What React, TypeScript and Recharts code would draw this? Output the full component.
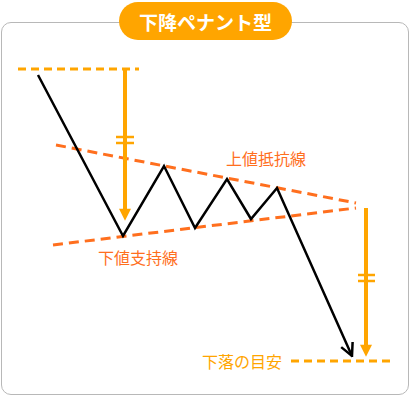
import React from 'react';
import { LineChart, Line, XAxis, YAxis } from 'recharts';

// price path of the pattern (x = time, y = level on a top-down scale)
const pathX = [38, 123, 164, 195, 227, 251, 277, 352];
const pathY = [75, 236, 166, 228, 179, 219, 188, 356];

const resistanceX = [56, 356];
const resistanceY = [145, 203];
const supportX = [53, 356];
const supportY = [245, 208];

const topTargetX = [18, 139];
const topTargetY = [69, 69];
const bottomTargetX = [291, 390];
const bottomTargetY = [361, 361];

const leftMeasureX = [125, 125];
const leftMeasureY = [69, 210];
const rightMeasureX = [366, 366];
const rightMeasureY = [208, 346];

const leftTickX = [116, 134];
const leftTickY = [137, 143];
const rightTickX = [358, 375];
const rightTickY = [275, 281];

const title = '下降ペナント型';
const resistanceLabel = '上値抵抗線';
const supportLabel = '下値支持線';
const targetLabel = '下落の目安';

const zip = (xs: number[], ys: number[]) => xs.map((x, i) => ({ x, y: ys[i] }));

const ORANGE = '#FFA500';
const RED_ORANGE = '#FF6F1E';

const plain = { dataKey: 'y', dot: false, activeDot: false, isAnimationActive: false, legendType: 'none' as const };

export default function App() {
  const tickLines = [
    ...leftTickY.map((y) => zip(leftTickX, [y, y])),
    ...rightTickY.map((y) => zip(rightTickX, [y, y])),
  ];

  const jp = '"Noto Sans CJK JP", "Noto Sans", sans-serif';

  return (
    <div style={{ position: 'absolute', left: 0, top: 0, width: 412, height: 400, background: '#fff', fontFamily: jp }}>
      <svg width={0} height={0} style={{ position: 'absolute' }}>
        <defs>
          <marker id="headBlack" viewBox="0 0 12 12" refX={11} refY={6} markerWidth={6} markerHeight={6} orient="auto" markerUnits="strokeWidth">
            <path d="M1,1 L11,6 L1,11" fill="none" stroke="#000" strokeWidth={2} strokeLinejoin="miter" />
          </marker>
          <marker id="headOrange" viewBox="0 0 10 10" refX={1} refY={5} markerWidth={3.5} markerHeight={3} orient="auto" markerUnits="strokeWidth">
            <path d="M0,0 L10,5 L0,10 Z" fill={ORANGE} />
          </marker>
        </defs>
      </svg>

      <div
        style={{
          position: 'absolute', left: 1, top: 22, width: 406, height: 371,
          border: '1.5px solid #b8b8b8', borderRadius: 10,
        }}
      />
      <div
        style={{
          position: 'absolute', left: 119, top: 2, width: 173, height: 38, borderRadius: 19,
          background: ORANGE, color: '#fff', fontSize: 19, fontWeight: 700,
          display: 'flex', alignItems: 'center', justifyContent: 'center',
        }}
      >
        {title}
      </div>

      <div style={{ position: 'absolute', left: 0, top: 0 }}>
        <LineChart width={412} height={400} margin={{ top: 0, right: 0, bottom: 0, left: 0 }}>
          <XAxis type="number" dataKey="x" domain={[0, 412]} hide allowDataOverflow />
          <YAxis type="number" dataKey="y" domain={[0, 400]} reversed hide allowDataOverflow />

          <Line {...plain} data={zip(resistanceX, resistanceY)} stroke={RED_ORANGE} strokeWidth={3} strokeDasharray="10 6" />
          <Line {...plain} data={zip(supportX, supportY)} stroke={RED_ORANGE} strokeWidth={3} strokeDasharray="10 6" />

          <Line {...plain} data={zip(topTargetX, topTargetY)} stroke={ORANGE} strokeWidth={3} strokeDasharray="8 5" />
          <Line {...plain} data={zip(bottomTargetX, bottomTargetY)} stroke={ORANGE} strokeWidth={3} strokeDasharray="8 5" />

          <Line {...plain} data={zip(leftMeasureX, leftMeasureY)} stroke={ORANGE} strokeWidth={4} markerEnd="url(#headOrange)" />
          <Line {...plain} data={zip(rightMeasureX, rightMeasureY)} stroke={ORANGE} strokeWidth={4} markerEnd="url(#headOrange)" />
          {tickLines.map((d, i) => (
            <Line key={i} {...plain} data={d} stroke={ORANGE} strokeWidth={2.5} />
          ))}

          <Line {...plain} data={zip(pathX, pathY)} type="linear" stroke="#000" strokeWidth={2.5} strokeLinejoin="miter" markerEnd="url(#headBlack)" />
        </LineChart>
      </div>

      <div style={{ position: 'absolute', left: 226, top: 146, fontSize: 16, color: RED_ORANGE, lineHeight: '24px' }}>{resistanceLabel}</div>
      <div style={{ position: 'absolute', left: 98, top: 245, fontSize: 16, color: RED_ORANGE, lineHeight: '24px' }}>{supportLabel}</div>
      <div style={{ position: 'absolute', left: 202, top: 349, fontSize: 16, color: ORANGE, lineHeight: '24px' }}>{targetLabel}</div>
    </div>
  );
}
